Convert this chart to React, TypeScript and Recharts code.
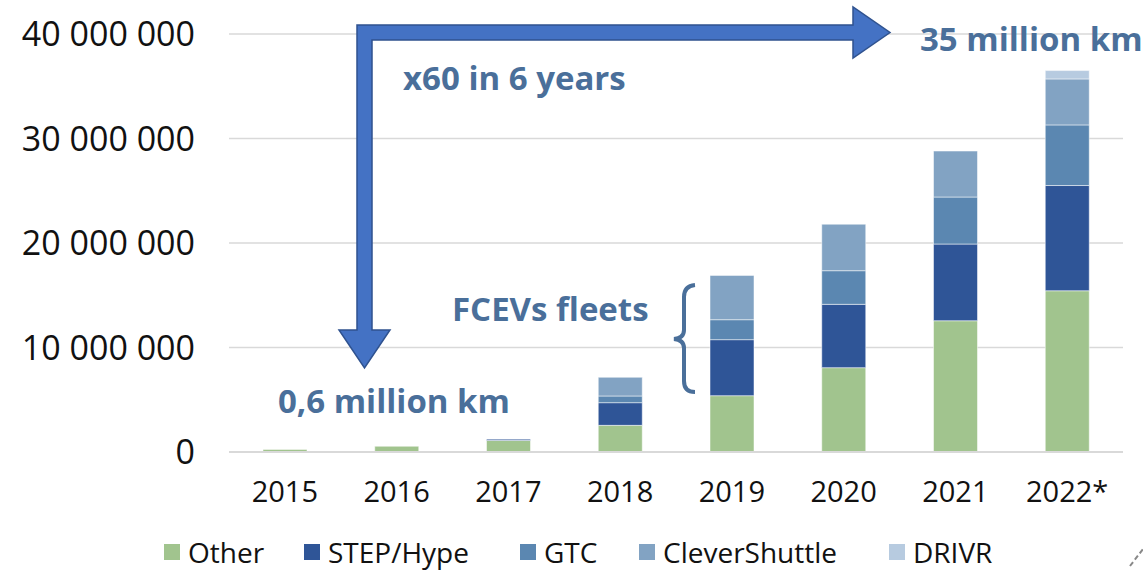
import { BarChart, Bar, XAxis, YAxis, CartesianGrid, Legend } from 'recharts';

const years = ['2015', '2016', '2017', '2018', '2019', '2020', '2021', '2022*'];
const other = [250000, 550000, 1100000, 2550000, 5390000, 8070000, 12560000, 15430000];
const stepHype = [0, 0, 130000, 2170000, 5360000, 6060000, 7340000, 10070000];
const gtc = [0, 0, 0, 640000, 1910000, 3220000, 4500000, 5800000];
const cleverShuttle = [0, 0, 0, 1790000, 4240000, 4450000, 4400000, 4400000];
const drivr = [0, 0, 0, 0, 0, 0, 0, 800000];
const yTicks = [0, 10000000, 20000000, 30000000, 40000000];

const series = [
  { key: 'Other', values: other, color: '#a1c48e' },
  { key: 'STEP/Hype', values: stepHype, color: '#2f5597' },
  { key: 'GTC', values: gtc, color: '#5b87b1' },
  { key: 'CleverShuttle', values: cleverShuttle, color: '#82a3c3' },
  { key: 'DRIVR', values: drivr, color: '#b7cbe0' },
];

const data = years.map((year, i) => {
  const row: Record<string, string | number> = { year };
  series.forEach(s => { row[s.key] = s.values[i]; });
  return row;
});

const legendWidths = [140, 216, 119, 250, 150];
const noteColor = '#4a6f9a';

const formatTick = (v: number) => String(v).replace(/\B(?=(\d{3})+(?!\d))/g, ' ');

function ChartLegend() {
  return (
    <div style={{ display: 'flex', alignItems: 'center', height: 36, paddingLeft: 164, fontSize: 28, color: '#111' }}>
      {series.map((s, i) => (
        <div key={s.key} style={{ display: 'flex', alignItems: 'center', width: legendWidths[i] }}>
          <span style={{ display: 'inline-block', width: 16, height: 16, background: s.color, marginRight: 8 }} />
          <span>{s.key}</span>
        </div>
      ))}
    </div>
  );
}

export default function App() {
  return (
    <div style={{ position: 'absolute', left: 0, top: 0, width: 1143, height: 570, fontFamily: '"Open Sans", sans-serif', background: '#fff' }}>
      <BarChart width={1143} height={570} data={data} margin={{ top: 34, right: 20, bottom: 0, left: 0 }}>
        <CartesianGrid vertical={false} stroke="#d9d9d9" strokeWidth={1.5} />
        <XAxis
          dataKey="year"
          height={82}
          tickLine={false}
          tickSize={0}
          tickMargin={29}
          axisLine={{ stroke: '#d9d9d9', strokeWidth: 2 }}
          tick={{ fill: '#111', fontSize: 29 }}
        />
        <YAxis
          width={229}
          domain={[0, 40000000]}
          ticks={yTicks}
          tickFormatter={formatTick}
          axisLine={false}
          tickLine={false}
          tickSize={0}
          tickMargin={34}
          tick={{ fill: '#111', fontSize: 34 }}
        />
        <Legend verticalAlign="bottom" wrapperStyle={{ left: 0, width: 1143 }} content={() => <ChartLegend />} />
        {series.map(s => (
          <Bar
            key={s.key}
            dataKey={s.key}
            stackId="a"
            fill={s.color}
            stroke="#ffffff"
            strokeOpacity={0.5}
            strokeWidth={1}
            barSize={44}
            isAnimationActive={false}
          />
        ))}
      </BarChart>
      <svg width={1143} height={570} style={{ position: 'absolute', left: 0, top: 0, pointerEvents: 'none' }}>
        <polygon
          points="357,330 339,330 364.5,368 390,330 372,330 372,40 853,40 853,58 890,32.5 853,7 853,25 357,25"
          fill="#4472c4"
          stroke="#2f528f"
          strokeWidth={1.5}
        />
        <path
          d="M 695 285 Q 684 286 684 297 L 684 330 Q 684 338 674 339 Q 684 340 684 348 L 684 381 Q 684 392 695 392"
          fill="none"
          stroke={noteColor}
          strokeWidth={4}
        />
        <g fill={noteColor} fontWeight="bold" fontSize={33} dominantBaseline="central">
          <text x={920} y={38}>35 million km</text>
          <text x={403} y={77}>x60 in 6 years</text>
          <text x={452} y={308}>FCEVs fleets</text>
          <text x={278} y={400}>0,6 million km</text>
        </g>
        <line x1={1130} y1={566} x2={1143} y2={549} stroke="#888" strokeWidth={2} strokeDasharray="5 3" />
      </svg>
    </div>
  );
}
